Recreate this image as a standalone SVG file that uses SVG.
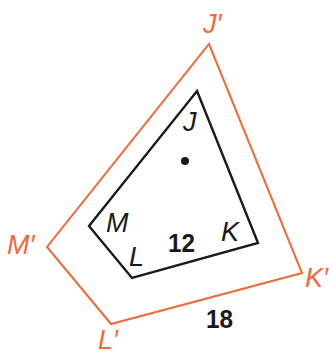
<svg xmlns="http://www.w3.org/2000/svg" width="333" height="356" viewBox="0 0 333 356">
<style>
.outer{fill:none;stroke:#EE6A3A;stroke-width:2;stroke-linejoin:miter}
.inner{fill:none;stroke:#1a1a1a;stroke-width:2.4;stroke-linejoin:miter}
.lbl{font-family:"Liberation Sans",Arial,sans-serif;font-style:italic;font-size:27px}
.or{fill:#EE6A3A}
.bk{fill:#1a1a1a}
.num{font-family:"Liberation Sans",Arial,sans-serif;font-weight:bold;font-size:26px;fill:#1a1a1a}
</style>
<rect width="333" height="356" fill="#ffffff"/>
<g id="connectors">
<polygon id="outer-quad" class="outer" points="209,44 302,273 111,324 47,247"/>
<polygon id="inner-quad" class="inner" points="197,91 258,243 132,278 89,226"/>
</g>
<g id="center"><circle cx="185" cy="161" r="4" fill="#1a1a1a"/></g>
<g id="nodeJp"><text class="lbl or" x="203" y="33">J′</text></g>
<g id="nodeMp"><text class="lbl or" x="7" y="254">M′</text></g>
<g id="nodeLp"><text class="lbl or" x="98" y="349">L′</text></g>
<g id="nodeKp"><text class="lbl or" x="305" y="287">K′</text></g>
<g id="nodeJ"><text class="lbl bk" x="183" y="131">J</text></g>
<g id="nodeM"><text class="lbl bk" x="106" y="232">M</text></g>
<g id="nodeL"><text class="lbl bk" x="129" y="266">L</text></g>
<g id="nodeK"><text class="lbl bk" x="221" y="241">K</text></g>
<g id="len12"><text class="num" x="168" y="252" textLength="27" lengthAdjust="spacingAndGlyphs">12</text></g>
<g id="len18"><text class="num" x="206" y="328" textLength="27" lengthAdjust="spacingAndGlyphs">18</text></g>
</svg>
